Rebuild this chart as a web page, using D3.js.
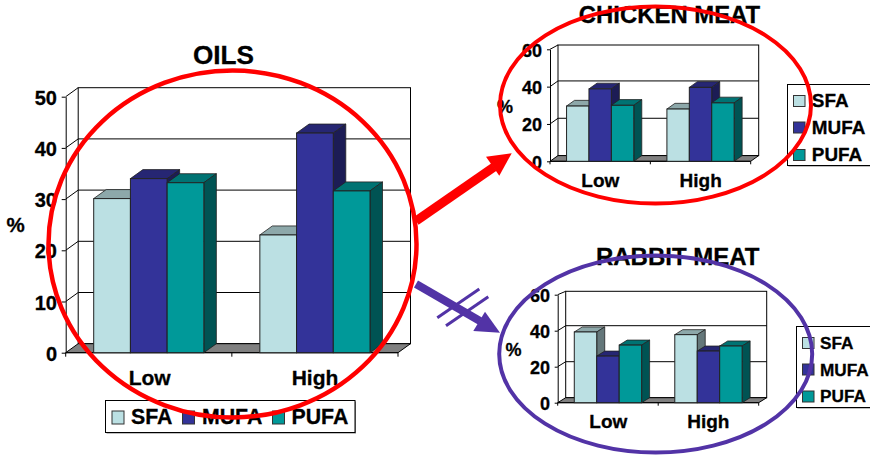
<!DOCTYPE html>
<html><head><meta charset="utf-8">
<script src="https://cdnjs.cloudflare.com/ajax/libs/d3/7.8.5/d3.min.js"></script>
<style>html,body{margin:0;padding:0;background:#fff}svg{display:block}text{font-family:"Liberation Sans",Arial,sans-serif;font-weight:700;fill:#000;stroke:#000;stroke-width:.3px}</style>
</head><body><svg id="c" width="870" height="455"></svg>
<script>
const categories = ["Low","High"];
const seriesNames = ["SFA","MUFA","PUFA"];
const oilsValues = [[30.1,34,33.2],[23,42.9,31.6]];
const chickenValues = [[29.6,38.8,30],[28,39.6,31.3]];
const rabbitValues = [[39.3,25.9,32],[37.8,28.7,31.5]];
const oilsTicks = [0,10,20,30,40,50];
const meatTicks = [0,20,40,60];
const fills = {SFA:"#BBE0E3",MUFA:"#333399",PUFA:"#009999"};
const tops = {SFA:"#8DA8AA",MUFA:"#262673",PUFA:"#007373"};
const sides = {SFA:"#64777A",MUFA:"#1C1C55",PUFA:"#005353"};

const svg = d3.select("#c");
const line = d3.line();

function panel(p){
  const g = svg.append("g");
  const y = d3.scaleLinear().domain([0,p.max]).range([p.y0,p.yTop]);
  const xc = d3.scaleBand().domain(categories).range([p.x0,p.x1]);
  const xs = d3.scaleBand().domain(seriesNames)
    .range([xc.bandwidth()*p.gap/2, xc.bandwidth()*(1-p.gap/2)]);
  const dx=p.dx, dy=p.dy;
  g.append("rect").attr("x",p.x0+dx).attr("y",p.wallTop).attr("width",p.x1-p.x0).attr("height",p.y0-dy-p.wallTop)
    .attr("fill","#fff").attr("stroke","#000").attr("stroke-width",1);
  g.append("path").attr("d",line([[p.x0,y(p.max)],[p.x0+dx,p.wallTop]])).attr("stroke","#000").attr("fill","none");
  p.ticks.forEach(t=>{
    if(t===0||t===p.max) return;
    g.append("path").attr("d",line([[p.x0,y(t)],[p.x0+dx,y(t)-dy],[p.x1+dx,y(t)-dy]])).attr("stroke","#000").attr("fill","none");
  });
  g.append("path").attr("d",line([[p.x0,p.y0],[p.x1,p.y0],[p.x1+dx,p.y0-dy],[p.x0+dx,p.y0-dy]])+"Z")
    .attr("fill","#808080").attr("stroke","#000").attr("stroke-width",1);
  const ay = d3.axisLeft(y).tickValues(p.ticks).tickSize(p.tick).tickSizeOuter(0);
  const axY = g.append("g").attr("transform",`translate(${p.x0},0)`).call(ay);
  axY.selectAll("text").remove();
  axY.selectAll("path,line").attr("stroke","#000");
  const axX = g.append("g");
  axX.append("path").attr("d",line([[p.x0,p.y0],[p.x1,p.y0]])).attr("stroke","#000");
  [p.x0,xc("High"),p.x1].forEach(x=>axX.append("path").attr("d",line([[x,p.y0],[x,p.y0+p.tick]])).attr("stroke","#000"));
  p.values.forEach((vals,i)=>{
    const gc = g.append("g").attr("transform",`translate(${xc(categories[i])},0)`);
    seriesNames.forEach((s,j)=>{
      const X = xs(s), W = xs.bandwidth(), Y = y(vals[j]);
      gc.append("path").attr("d",line([[X,Y],[X+dx,Y-dy],[X+W+dx,Y-dy],[X+W,Y]])+"Z").attr("fill",tops[s]).attr("stroke","#222").attr("stroke-width",.8);
      gc.append("path").attr("d",line([[X+W,Y],[X+W+dx,Y-dy],[X+W+dx,p.y0-dy],[X+W,p.y0]])+"Z").attr("fill",sides[s]).attr("stroke","#222").attr("stroke-width",.8);
      gc.append("rect").attr("x",X).attr("y",Y).attr("width",W).attr("height",p.y0-Y).attr("fill",fills[s]).attr("stroke","#222").attr("stroke-width",1);
    });
  });
  p.ticks.forEach(t=>g.append("text").attr("x",p.labelRight).attr("y",y(t)+p.tickFont*0.4).attr("text-anchor","end").attr("font-size",p.tickFont).text(t));
  categories.forEach((c,i)=>g.append("text").attr("x",p.catCenters[i]).attr("y",p.catBase).attr("text-anchor","middle").attr("font-size",p.catFont).text(c));
  g.append("text").attr("x",p.pct[0]).attr("y",p.pct[1]).attr("font-size",p.pct[2]).text("%");
  g.append("text").attr("x",p.title[1]).attr("y",p.title[2]).attr("text-anchor","middle").attr("font-size",p.title[3]).text(p.title[0]);
  const L = p.legend;
  g.append("rect").attr("x",L.box[0]+1).attr("y",L.box[1]+1).attr("width",L.box[2]).attr("height",L.box[3]).attr("fill","#808080");
  g.append("rect").attr("x",L.box[0]).attr("y",L.box[1]).attr("width",L.box[2]).attr("height",L.box[3]).attr("fill","#fff").attr("stroke","#000");
  seriesNames.forEach((s,j)=>{
    g.append("rect").attr("x",L.sx[j]).attr("y",L.sy[j]).attr("width",L.sw).attr("height",L.sh).attr("fill",fills[s]).attr("stroke","#333");
    g.append("text").attr("x",L.tx[j]).attr("y",L.ty[j]).attr("font-size",L.font).text(s);
  });
}

panel({values:oilsValues,ticks:oilsTicks,max:50,x0:65.7,x1:398,y0:352.7,yTop:96.7,wallTop:87.7,dx:12.5,dy:9,gap:0.337,tick:4,
  labelRight:57,tickFont:20,catCenters:[149.7,315],catBase:385,catFont:21,pct:[6.5,231.5,20.5],title:["OILS",223.5,64,26.2],
  legend:{box:[105.5,400.5,249.5,32],sx:[112,182.5,272.5],sy:[411,411,411],sw:12,sh:13,tx:[131,202,291.5],ty:[424,424,424],font:21.3}});
panel({values:chickenValues,ticks:meatTicks,max:60,x0:550,x1:750.7,y0:161.3,yTop:49.3,wallTop:45,dx:8,dy:5.7,gap:0.33,tick:3,
  labelRight:542,tickFont:18,catCenters:[600.3,700.7],catBase:186.7,catFont:19,pct:[497,113,18],title:["CHICKEN MEAT",669.5,22.7,23.9],
  legend:{box:[787.5,84.5,90,81],sx:[793.5,793.5,793.5],sy:[95.5,122,149.5],sw:11.5,sh:11,tx:[811.8,811.8,811.8],ty:[106.7,133.7,160.7],font:18.9}});
panel({values:rabbitValues,ticks:meatTicks,max:60,x0:557.7,x1:758.7,y0:402.7,yTop:294.7,wallTop:291.3,dx:8,dy:5,gap:0.33,tick:3,
  labelRight:550,tickFont:18,catCenters:[608.3,708.3],catBase:427.7,catFont:19,pct:[505.5,355.7,18],title:["RABBIT MEAT",677.7,265,24],
  legend:{box:[796.5,326.5,90,81],sx:[802.5,802.5,802.5],sy:[337.5,364,391],sw:11.5,sh:11,tx:[820,820,820],ty:[349,375.7,402.3],font:17.2}});

const red="#FF0000", violet="#5233A6";
[[232.5,244,184,173.5,red,4.5],[655.5,105,155.5,98.5,red,4],[655.7,354,156.5,98.5,violet,4]].forEach(e=>{
  svg.append("ellipse").attr("cx",e[0]).attr("cy",e[1]).attr("rx",e[2]).attr("ry",e[3]).attr("fill","none").attr("stroke",e[4]).attr("stroke-width",e[5]);
});
svg.append("path").attr("d",line([[416,221],[494,167]])).attr("stroke",red).attr("stroke-width",9).attr("fill","none");
svg.append("path").attr("d",line([[511.7,153.3],[486,156.7],[499.3,175.7]])+"Z").attr("fill",red);
svg.append("path").attr("d",line([[416,284],[480,321]])).attr("stroke",violet).attr("stroke-width",8).attr("fill","none");
svg.append("path").attr("d",line([[500,332.7],[485,311.7],[473.3,331]])+"Z").attr("fill",violet);
[[[479.3,289],[437.3,317.7]],[[488.3,296.7],[446,325.7]]].forEach(s=>svg.append("path").attr("d",line(s)).attr("stroke",violet).attr("stroke-width",3).attr("fill","none"));
</script></body></html>
